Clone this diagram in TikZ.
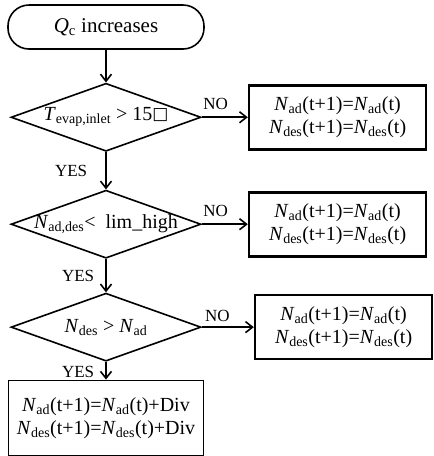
\documentclass[tikz,border=0pt]{standalone}
\usepackage{fontspec}
\setmainfont{Liberation Serif}
\newfontfamily\symbfont{DejaVu Sans}
\usetikzlibrary{arrows.meta,shapes.geometric}

\begin{document}
\begin{tikzpicture}[auto]
\tikzstyle{decision} = [diamond, draw, line width=1.6pt, minimum width=190pt,
minimum height=68pt, inner sep=0pt, font=\fontsize{20}{23}\selectfont]
\tikzstyle{terminal} = [rectangle, draw, line width=1.6pt, rounded corners=21pt,
minimum width=196pt, minimum height=44pt, font=\fontsize{21}{24}\selectfont]
\tikzstyle{block} = [rectangle, draw, line width=2.6pt, minimum width=177pt,
minimum height=64pt, inner sep=0pt, align=center, font=\fontsize{20}{23}\selectfont]
\tikzstyle{block_end} = [rectangle, draw, line width=1.6pt, minimum width=195pt,
minimum height=75pt, inner sep=0pt, align=center, font=\fontsize{20}{23}\selectfont]
\tikzstyle{line} = [draw, line width=1.6pt, -{Straight Barb[length=7pt,width=11pt]}];
\tikzstyle{answer} = [inner sep=0pt, font=\fontsize{17}{19}\selectfont];
\matrix [column sep=43pt, row sep=34pt, inner sep=0pt]
{
% row 1
\node [terminal] (start) {\textit{Q}\textsubscript{c} increases}; & \\[-1pt]
% row 2
\node [decision] (check_temp) {\makebox[0pt]{\textit{T}\textsubscript{evap,inlet} > 15\raisebox{1.5pt}{\symbfont\fontsize{17}{19}\selectfont □}}}; &
\node [block] (hold1) {\textit{N}\textsubscript{ad}(t+1)=\textit{N}\textsubscript{ad}(t)\\
			\textit{N}\textsubscript{des}(t+1)=\textit{N}\textsubscript{des}(t)}; \\[4pt]
% row 3
\node [decision] (check_lim) {\makebox[0pt]{\textit{N}\textsubscript{ad,des}< \ lim\_high}}; &
\node [block] (hold2) {\textit{N}\textsubscript{ad}(t+1)=\textit{N}\textsubscript{ad}(t)\\
			\textit{N}\textsubscript{des}(t+1)=\textit{N}\textsubscript{des}(t)}; \\
% row 4
\node [decision] (check_des) {\makebox[0pt]{\textit{N}\textsubscript{des} > \textit{N}\textsubscript{ad}}}; &
\node [block, xshift=6pt] (hold3) {\textit{N}\textsubscript{ad}(t+1)=\textit{N}\textsubscript{ad}(t)\\
			\textit{N}\textsubscript{des}(t+1)=\textit{N}\textsubscript{des}(t)}; \\[-16pt]
% row 5
\node [block_end] (update) {\textit{N}\textsubscript{ad}(t+1)=\textit{N}\textsubscript{ad}(t)+Div\\
			\textit{N}\textsubscript{des}(t+1)=\textit{N}\textsubscript{des}(t)+Div}; & \\
};
\pgfresetboundingbox
\useasboundingbox ([xshift=-106pt,yshift=27pt]start.center) rectangle ++(434pt,-456pt);
\tikzstyle{every path}=[line]
\path (start) -- (check_temp);
\path (check_temp) -- node [answer, above=7pt, pos=0.3] {NO} (hold1);
\path (check_temp) -- node [answer, left=18pt] {YES} (check_lim);
\path (check_lim) -- node [answer, above=7pt, pos=0.3] {NO} (hold2);
\path (check_lim) -- node [answer, left=11pt] {YES} (check_des);
\path (check_des) -- node [answer, above=5pt, pos=0.3] {NO} (hold3);
\path (check_des) -- node [answer, left=11pt, pos=0.55] {YES} (update);
\end{tikzpicture}
\end{document}
